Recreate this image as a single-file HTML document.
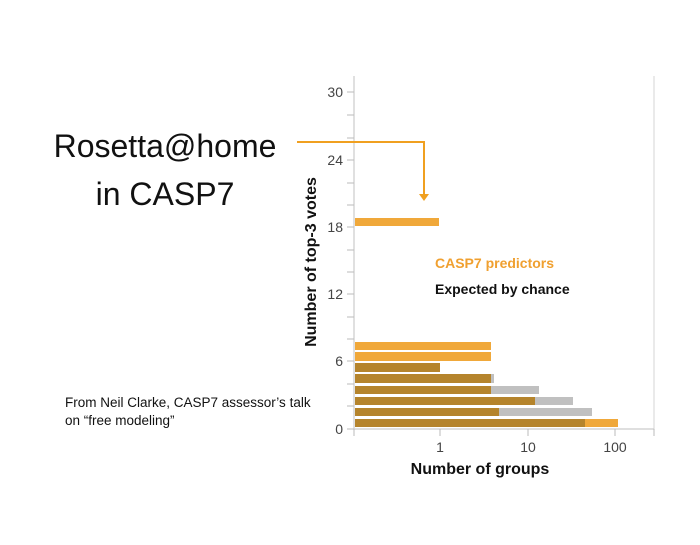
<!DOCTYPE html>
<html><head><meta charset="utf-8"><style>
html,body{margin:0;padding:0;background:#fff;}
body{width:700px;height:540px;overflow:hidden;}
</style></head><body>
<svg width="700" height="540" xmlns="http://www.w3.org/2000/svg" font-family="Liberation Sans, sans-serif">
<rect width="700" height="540" fill="#fff"/>
<text x="165" y="157" font-size="32" text-anchor="middle" fill="#111">Rosetta@home</text>
<text x="165" y="205" font-size="32" text-anchor="middle" fill="#111">in CASP7</text>
<text x="65" y="407" font-size="13.5" fill="#111">From Neil Clarke, CASP7 assessor’s talk</text>
<text x="65" y="425" font-size="13.5" fill="#111">on “free modeling”</text>
<text transform="translate(316,262) rotate(-90)" font-size="16" font-weight="bold" text-anchor="middle" fill="#111">Number of top-3 votes</text>
<!-- axes -->
<line x1="354" y1="76" x2="354" y2="430" stroke="#ccc" stroke-width="1.2"/>
<line x1="654" y1="76" x2="654" y2="430" stroke="#ddd" stroke-width="1.2"/>
<line x1="354" y1="429" x2="654" y2="429" stroke="#ccc" stroke-width="1.2"/>
<g stroke="#bbb" stroke-width="1">
<line x1="347" y1="92" x2="354" y2="92"/><line x1="347" y1="115" x2="354" y2="115"/><line x1="347" y1="138" x2="354" y2="138"/><line x1="347" y1="160" x2="354" y2="160"/><line x1="347" y1="183" x2="354" y2="183"/><line x1="347" y1="205" x2="354" y2="205"/><line x1="347" y1="227" x2="354" y2="227"/><line x1="347" y1="250" x2="354" y2="250"/><line x1="347" y1="272" x2="354" y2="272"/><line x1="347" y1="294" x2="354" y2="294"/><line x1="347" y1="317" x2="354" y2="317"/><line x1="347" y1="339" x2="354" y2="339"/><line x1="347" y1="361" x2="354" y2="361"/><line x1="347" y1="384" x2="354" y2="384"/><line x1="347" y1="406" x2="354" y2="406"/><line x1="347" y1="429" x2="354" y2="429"/>
<line x1="354" y1="429" x2="354" y2="436"/><line x1="440" y1="429" x2="440" y2="436"/><line x1="528" y1="429" x2="528" y2="436"/><line x1="615" y1="429" x2="615" y2="436"/><line x1="654" y1="429" x2="654" y2="436"/>
</g>
<g font-size="14" fill="#444" text-anchor="end">
<text x="343" y="97">30</text><text x="343" y="165">24</text><text x="343" y="232">18</text><text x="343" y="299">12</text><text x="343" y="366">6</text><text x="343" y="434">0</text>
</g>
<g font-size="14" fill="#444" text-anchor="middle">
<text x="440" y="452">1</text><text x="528" y="452">10</text><text x="615" y="452">100</text>
</g>
<text x="480" y="474" font-size="16" font-weight="bold" text-anchor="middle" fill="#111">Number of groups</text>
<!-- bars -->
<rect x="355" y="218" width="84" height="8" fill="#F0A83A"/>
<rect x="355" y="342" width="136" height="8" fill="#F0A83A"/>
<rect x="355" y="352" width="136" height="9" fill="#F0A83A"/>
<rect x="355" y="363" width="85" height="9" fill="#B5842C"/>
<rect x="355" y="374" width="139" height="9" fill="#C0C0C0"/>
<rect x="355" y="374" width="136" height="9" fill="#B5842C"/>
<rect x="355" y="386" width="184" height="8" fill="#C0C0C0"/>
<rect x="355" y="386" width="136" height="8" fill="#B5842C"/>
<rect x="355" y="397" width="218" height="8" fill="#C0C0C0"/>
<rect x="355" y="397" width="180" height="8" fill="#B5842C"/>
<rect x="355" y="408" width="237" height="8" fill="#C0C0C0"/>
<rect x="355" y="408" width="144" height="8" fill="#B5842C"/>
<rect x="355" y="419" width="263" height="8" fill="#F0A83A"/>
<rect x="355" y="419" width="230" height="8" fill="#B5842C"/>
<!-- arrow -->
<polyline points="297,142 424,142 424,196" fill="none" stroke="#F0A020" stroke-width="2"/>
<polygon points="419,194 429,194 424,201" fill="#F0A020"/>
<text x="435" y="268" font-size="14" font-weight="bold" fill="#F0A030">CASP7 predictors</text>
<text x="435" y="294" font-size="14" font-weight="bold" fill="#111">Expected by chance</text>
</svg>
</body></html>
